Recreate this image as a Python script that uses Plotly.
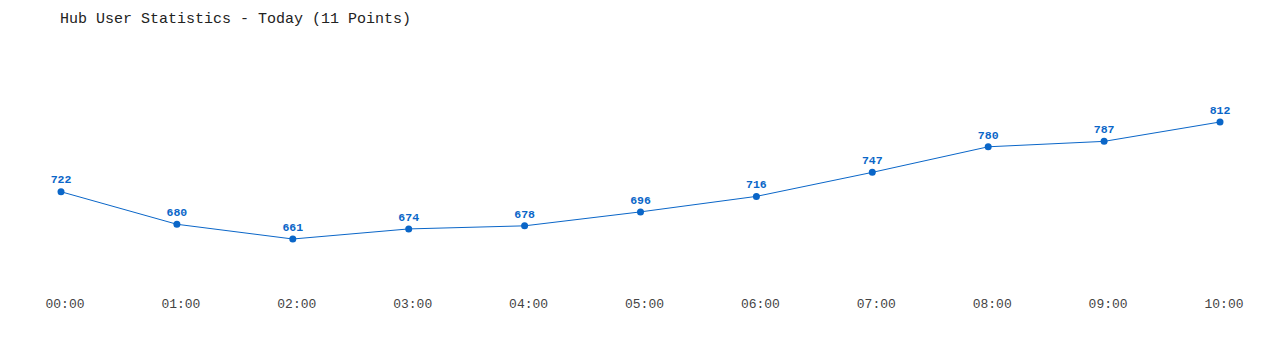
import plotly.graph_objects as go

hours = ["00:00", "01:00", "02:00", "03:00", "04:00", "05:00", "06:00", "07:00", "08:00", "09:00", "10:00"]
users = [722, 680, 661, 674, 678, 696, 716, 747, 780, 787, 812]

FONT = "Liberation Mono, DejaVu Sans Mono, monospace"
BLUE = "#0a66c8"

fig = go.Figure(go.Scatter(
    x=list(range(len(hours))), y=users,
    mode="lines+markers+text",
    line=dict(color=BLUE, width=1),
    marker=dict(color=BLUE, size=7),
    text=[str(v) for v in users],
    textposition="top center",
    textfont=dict(family=FONT, size=11.5, color=BLUE, weight="bold"),
    cliponaxis=False,
    hoverinfo="skip",
))

fig.update_layout(
    width=1280, height=350,
    margin=dict(l=61, r=60, t=40, b=60),
    paper_bgcolor="white", plot_bgcolor="white",
    showlegend=False,
    title=dict(text="Hub User Statistics - Today (11 Points)", x=60 / 1280, xref="container",
               xanchor="left", y=0.95, yanchor="middle", yref="container",
               font=dict(family=FONT, size=15, color="#222")),
    xaxis=dict(range=[0, 10], tickvals=list(range(len(hours))), ticktext=hours,
               showgrid=False, zeroline=False, showline=False, ticks="",
               ticklabelstandoff=4, ticklabelshift=4,
               tickfont=dict(family=FONT, size=13, color="#444")),
    yaxis=dict(range=[595.2, 917.8], visible=False, showgrid=False, zeroline=False),
)

fig.write_html("out.html")
